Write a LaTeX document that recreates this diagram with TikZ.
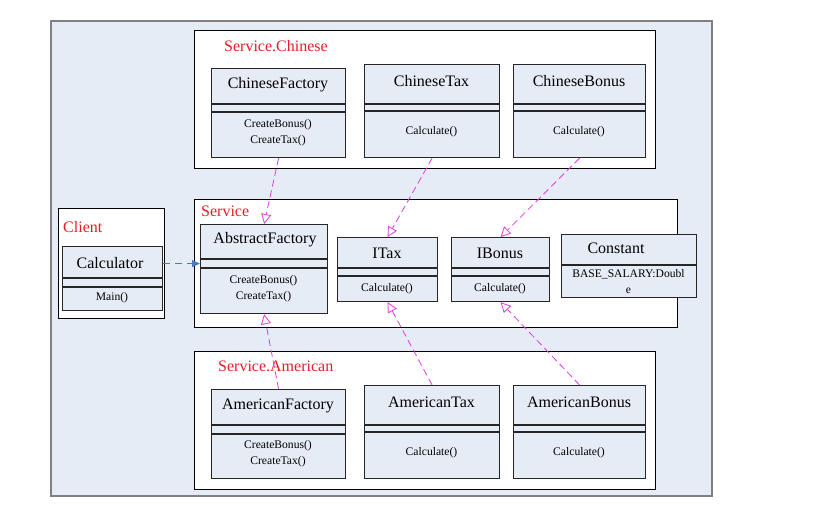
\documentclass[tikz,border=0pt]{standalone}
\usepackage{fontspec}
\setmainfont{Liberation Serif}
\usetikzlibrary{arrows.meta}

\definecolor{backfill}{RGB}{230,236,246}
\definecolor{pkgred}{RGB}{226,30,40}
\definecolor{implmag}{RGB}{222,60,222}
\definecolor{usesblue}{RGB}{80,120,190}

\tikzset{
  pkgbox/.style={draw=black, fill=white, line width=0.8pt},
  clsbox/.style={draw=black!85, fill=backfill, line width=1.2pt},
  divline/.style={draw=black!85, line width=1.2pt},
  pkglabel/.style={text=pkgred, anchor=west, inner sep=0pt, font=\fontsize{16}{18}\selectfont},
  clsname/.style={inner sep=0pt, font=\fontsize{16}{18}\selectfont},
  methods/.style={inner sep=0pt, align=center, font=\fontsize{11.6}{16}\selectfont},
  impl/.style={implmag, line width=0.8pt, dash pattern=on 7pt off 4pt,
    -{Triangle[open, length=10pt, width=10pt]}},
  uses/.style={usesblue, line width=1pt, dash pattern=on 7pt off 5pt,
    -{Triangle[length=8pt, width=7pt]}},
}

\begin{document}
\begin{tikzpicture}[x=1pt, y=-1pt]
  \useasboundingbox (0,0) rectangle (815,516);
  % background
  \draw[fill=backfill, draw=black!50, line width=1.4pt] (51,21) rectangle (712,496);

  % packages
  \draw[pkgbox] (194,30) rectangle (655,168);
  \draw[pkgbox] (194,199) rectangle (677,327);
  \draw[pkgbox] (194,351) rectangle (655,489);
  \draw[pkgbox] (58,208) rectangle (164,318);
  \node[pkglabel] (chnlabel) at (224,46) {Service.Chinese};
  \node[pkglabel] (srvlabel) at (201,211) {Service};
  \node[pkglabel] (amrlabel) at (218,366) {Service.American};
  \node[pkglabel] (cltlabel) at (63,227) {Client};

  % Service.Chinese
  \node[clsbox, anchor=north west, minimum width=134pt, minimum height=89pt] (chnfactory) at (211,68) {};
  \draw[divline] (211,104) -- (345,104);
  \draw[divline] (211,112) -- (345,112);
  \node[clsname] at (278,85) {ChineseFactory};
  \node[methods] at (278,133) {CreateBonus()\\CreateTax()};

  \node[clsbox, anchor=north west, minimum width=135pt, minimum height=93pt] (chntax) at (364,64) {};
  \draw[divline] (364,104) -- (499,104);
  \draw[divline] (364,111) -- (499,111);
  \node[clsname] at (431.5,81) {ChineseTax};
  \node[methods] at (431.5,132) {Calculate()};

  \node[clsbox, anchor=north west, minimum width=132pt, minimum height=93pt] (chnbonus) at (513,64) {};
  \draw[divline] (513,104) -- (645,104);
  \draw[divline] (513,111) -- (645,111);
  \node[clsname] at (579,81) {ChineseBonus};
  \node[methods] at (579,132) {Calculate()};

  % Service
  \node[clsbox, anchor=north west, minimum width=127pt, minimum height=89pt] (absfactory) at (200,224) {};
  \draw[divline] (200,259) -- (327,259);
  \draw[divline] (200,268) -- (327,268);
  \node[clsname] at (265,240) {AbstractFactory};
  \node[methods] at (263.5,288.5) {CreateBonus()\\CreateTax()};

  \node[clsbox, anchor=north west, minimum width=100pt, minimum height=64pt] (itax) at (337,237) {};
  \draw[divline] (337,268) -- (437,268);
  \draw[divline] (337,276) -- (437,276);
  \node[clsname] at (387,253) {ITax};
  \node[methods] at (387,289) {Calculate()};

  \node[clsbox, anchor=north west, minimum width=98pt, minimum height=64pt] (ibonus) at (451,237) {};
  \draw[divline] (451,268) -- (549,268);
  \draw[divline] (451,276) -- (549,276);
  \node[clsname] at (500,253) {IBonus};
  \node[methods] at (500,289) {Calculate()};

  \node[clsbox, anchor=north west, minimum width=135pt, minimum height=63pt] (constant) at (561,234) {};
  \draw[divline] (561,265) -- (696,265);
  \node[clsname] at (616,248) {Constant};
  \node[methods] at (628.5,282) {BASE\_SALARY:Doubl\\e};

  % Client
  \node[clsbox, anchor=north west, minimum width=100pt, minimum height=64pt] (calculator) at (62,246) {};
  \draw[divline] (62,278) -- (162,278);
  \draw[divline] (62,287) -- (162,287);
  \node[clsname] at (110,263) {Calculator};
  \node[methods] at (112,298) {Main()};

  % Service.American
  \node[clsbox, anchor=north west, minimum width=134pt, minimum height=89pt] (amrfactory) at (211,389) {};
  \draw[divline] (211,425) -- (345,425);
  \draw[divline] (211,434) -- (345,434);
  \node[clsname] at (278,406) {AmericanFactory};
  \node[methods] at (278,454) {CreateBonus()\\CreateTax()};

  \node[clsbox, anchor=north west, minimum width=135pt, minimum height=93pt] (amrtax) at (364,385) {};
  \draw[divline] (364,425) -- (499,425);
  \draw[divline] (364,432) -- (499,432);
  \node[clsname] at (431.5,402) {AmericanTax};
  \node[methods] at (431.5,453) {Calculate()};

  \node[clsbox, anchor=north west, minimum width=132pt, minimum height=93pt] (amrbonus) at (513,385) {};
  \draw[divline] (513,425) -- (645,425);
  \draw[divline] (513,432) -- (645,432);
  \node[clsname] at (579,402) {AmericanBonus};
  \node[methods] at (579,453) {Calculate()};

  % realizations
  \draw[impl] (chnfactory.south) -- (absfactory.north);
  \draw[impl] (chntax.south) -- (itax.north);
  \draw[impl] (chnbonus.south) -- (ibonus.north);
  \draw[impl] (amrfactory.north) -- (absfactory.south);
  \draw[impl] (amrtax.north) -- (itax.south);
  \draw[impl] (amrbonus.north) -- (ibonus.south);

  % dependency
  \draw[uses] ([yshift=15pt]calculator.east) -- ([yshift=15pt]calculator.east -| absfactory.west);
\end{tikzpicture}
\end{document}
